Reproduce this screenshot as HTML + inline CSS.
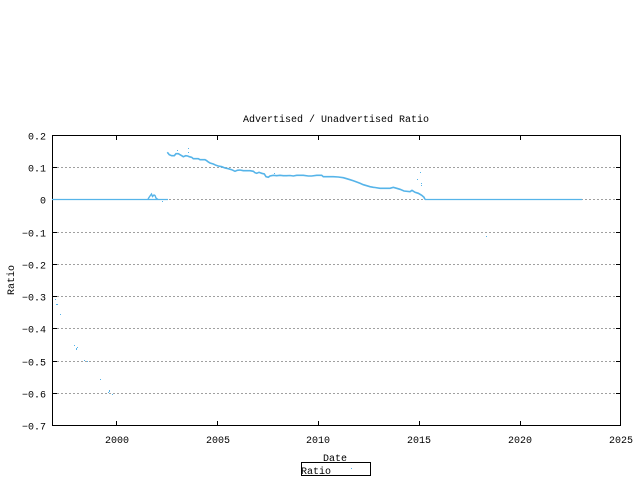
<!DOCTYPE html>
<html><head><meta charset="utf-8"><style>
html,body{margin:0;padding:0;background:#fff;}
svg{display:block;}
text{font-family:"Liberation Mono","DejaVu Sans Mono",monospace;font-size:10px;fill:#000;}
</style></head><body>
<svg width="640" height="480" viewBox="0 0 640 480" xmlns="http://www.w3.org/2000/svg">
<rect width="640" height="480" fill="#fff"/>
<g stroke="#a0a0a0" stroke-width="1" stroke-dasharray="2,2" shape-rendering="crispEdges">
<line x1="57" y1="167.5" x2="616" y2="167.5"/>
<line x1="57" y1="199.5" x2="616" y2="199.5"/>
<line x1="57" y1="232.5" x2="616" y2="232.5"/>
<line x1="57" y1="264.5" x2="616" y2="264.5"/>
<line x1="57" y1="296.5" x2="616" y2="296.5"/>
<line x1="57" y1="328.5" x2="616" y2="328.5"/>
<line x1="57" y1="361.5" x2="616" y2="361.5"/>
<line x1="57" y1="393.5" x2="616" y2="393.5"/>
</g>
<rect x="52.5" y="135.5" width="568" height="290" fill="none" stroke="#000" stroke-width="1" shape-rendering="crispEdges"/>
<g stroke="#000" stroke-width="1" shape-rendering="crispEdges">
<line x1="52" y1="167.5" x2="57" y2="167.5"/><line x1="616" y1="167.5" x2="621" y2="167.5"/>
<line x1="52" y1="199.5" x2="57" y2="199.5"/><line x1="616" y1="199.5" x2="621" y2="199.5"/>
<line x1="52" y1="232.5" x2="57" y2="232.5"/><line x1="616" y1="232.5" x2="621" y2="232.5"/>
<line x1="52" y1="264.5" x2="57" y2="264.5"/><line x1="616" y1="264.5" x2="621" y2="264.5"/>
<line x1="52" y1="296.5" x2="57" y2="296.5"/><line x1="616" y1="296.5" x2="621" y2="296.5"/>
<line x1="52" y1="328.5" x2="57" y2="328.5"/><line x1="616" y1="328.5" x2="621" y2="328.5"/>
<line x1="52" y1="361.5" x2="57" y2="361.5"/><line x1="616" y1="361.5" x2="621" y2="361.5"/>
<line x1="52" y1="393.5" x2="57" y2="393.5"/><line x1="616" y1="393.5" x2="621" y2="393.5"/>
<line x1="116.5" y1="421" x2="116.5" y2="425"/><line x1="116.5" y1="135" x2="116.5" y2="140"/>
<line x1="217.5" y1="421" x2="217.5" y2="425"/><line x1="217.5" y1="135" x2="217.5" y2="140"/>
<line x1="318.5" y1="421" x2="318.5" y2="425"/><line x1="318.5" y1="135" x2="318.5" y2="140"/>
<line x1="419.5" y1="421" x2="419.5" y2="425"/><line x1="419.5" y1="135" x2="419.5" y2="140"/>
<line x1="520.5" y1="421" x2="520.5" y2="425"/><line x1="520.5" y1="135" x2="520.5" y2="140"/>
</g>
<g text-anchor="end">
<text x="46" y="139.5">0.2</text>
<text x="46" y="171.5">0.1</text>
<text x="46" y="203.5">0</text>
<text x="46" y="236.5">−0.1</text>
<text x="46" y="268.5">−0.2</text>
<text x="46" y="300.5">−0.3</text>
<text x="46" y="332.5">−0.4</text>
<text x="46" y="365.5">−0.5</text>
<text x="46" y="397.5">−0.6</text>
<text x="46" y="429.5">−0.7</text>
</g>
<g text-anchor="middle">
<text x="117" y="443">2000</text>
<text x="218" y="443">2005</text>
<text x="318" y="443">2010</text>
<text x="419" y="443">2015</text>
<text x="520" y="443">2020</text>
<text x="621" y="443">2025</text>
</g>
<text x="336" y="122" text-anchor="middle">Advertised / Unadvertised Ratio</text>
<text x="335" y="461" text-anchor="middle">Date</text>
<text transform="translate(14,280) rotate(-90)" text-anchor="middle">Ratio</text>
<rect x="301.5" y="462.5" width="69" height="13" fill="#fff" stroke="#000" stroke-width="1" shape-rendering="crispEdges"/>
<text x="301" y="474">Ratio</text>
<rect x="351" y="468" width="1" height="1" fill="#56b4e9"/>
<g fill="none" stroke="#56b4e9">
<line x1="52" y1="199.5" x2="168" y2="199.5" stroke-width="1.2"/>
<line x1="425" y1="199.5" x2="582" y2="199.5" stroke-width="1.2"/>
<polyline stroke-width="1.4" points="148,199 150,196 151.5,194 152.5,196.5 154,195 155,195.5 156,198 158,199.5"/>
<polyline stroke-width="1.6" points="167.3,152.3 169.3,154.7 171.7,155.7 174.3,155.7 176,153.7 178.3,153.7 180,154.7 181.7,155.7 183.3,156.7 185.7,155.7 187.7,156 189.3,156.7 191.7,157.3 193.3,158.7 198.3,158.7 200,159.7 205,159.7 206.7,160.7 208.3,162 210,163 213.3,164 216,165.3 218.3,166 221.7,166.7 225,168 228.3,168.7 231.7,169.7 235,171.3 237.3,170.3 240,170 243.3,170.7 246.7,170.7 250,170.7 253.3,171.3 255,172.7 256.7,173.3 259,172.3 261.7,173.3 264.3,174 266,176.7 268.3,177.3 270,176 273.3,175.3 276.7,175.7 280,175.3 283.3,175.7 286.7,175.7 290,175.5 293.3,176 296.7,175.3 303.3,175.3 308.3,176 311.7,176 316.7,175.3 321.7,175.3 323.3,176.7 330,176.7 333.3,176.7 338.3,177 343.3,177.7 346.7,178.7 350,179.7 353.3,180.7 356.7,182 360,183.3 363.3,184.7 366.7,185.7 370,186.7 373.3,187.3 375,187.5 380,188.3 386.7,188.3 390,188.3 393.3,187.3 396.7,188.3 400,189.3 404,191 410,191.7 412,190.3 415,192.3 418.3,193.3 421.7,195.3 424,197.3 425,199.5"/>
</g>
<g fill="#56b4e9">
<rect x="177" y="150" width="1" height="1"/>
<rect x="188" y="148" width="1" height="1"/>
<rect x="188" y="152" width="1" height="1"/>
<rect x="162" y="201" width="1" height="1"/>
<rect x="274" y="173" width="1" height="1"/>
<rect x="420" y="172" width="1" height="1"/>
<rect x="417" y="179" width="1" height="1"/>
<rect x="421" y="183" width="1" height="1"/>
<rect x="421" y="185" width="1" height="1"/>
<rect x="486" y="236" width="1" height="1"/>
<rect x="55" y="299" width="1" height="1"/>
<rect x="56" y="304" width="2" height="1"/>
<rect x="60" y="314" width="1" height="1"/>
<rect x="74" y="345" width="1" height="1"/>
<rect x="76" y="348" width="1" height="2"/>
<rect x="77" y="347" width="1" height="1"/>
<rect x="84" y="360" width="1" height="1"/>
<rect x="87" y="361" width="1" height="1"/>
<rect x="100" y="379" width="1" height="1"/>
<rect x="109" y="390" width="1" height="2"/>
<rect x="108" y="392" width="1" height="1"/>
<rect x="112" y="394" width="1" height="1"/>
</g>
</svg>
</body></html>
